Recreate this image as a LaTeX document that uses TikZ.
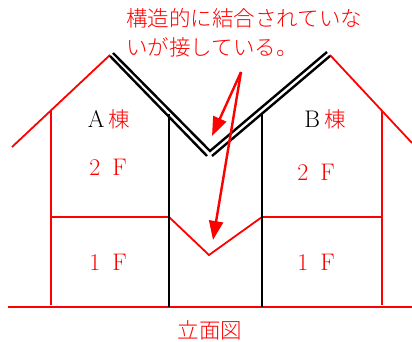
\documentclass[tikz,border=0pt]{standalone}
\usepackage{fontspec}
\usepackage{tikz}
\newfontfamily\cjk{Noto Sans CJK JP Light}
\tikzset{
    redline/.style={draw=red, line width=1.8pt},
    blackline/.style={draw=black, line width=2.4pt},
    callout/.style={draw=red, line width=2.4pt, -{Stealth[length=19pt,width=14pt,inset=0pt]}},
    redtext/.style={text=red, inner sep=0pt, font=\fontsize{24}{29}\selectfont},
    cjktext/.style={text=red, inner sep=0pt, font=\fontsize{21.5}{29}\selectfont\cjk},
}
\usetikzlibrary{arrows.meta}

\begin{document}
\begin{tikzpicture}[x=1pt, y=-1pt]
        \useasboundingbox (0,0) rectangle (412,342);

        \coordinate (eaveL) at (12,147);
        \coordinate (apexL) at (110,55);
        \coordinate (apexR) at (330,55);
        \coordinate (eaveR) at (412,143);
        \coordinate (wallLtop) at (51,110);
        \coordinate (wallLbot) at (51,305);
        \coordinate (wallRtop) at (382,111);
        \coordinate (wallRbot) at (382,305);
        \coordinate (innerLtop) at (169,114);
        \coordinate (innerLbot) at (169,307);
        \coordinate (innerRtop) at (262,113);
        \coordinate (innerRbot) at (262,307);
        \coordinate (floorL) at (51,217);
        \coordinate (floorML) at (169,217);
        \coordinate (floorV) at (209,255);
        \coordinate (floorMR) at (262,217);
        \coordinate (floorR) at (382,217);
        \coordinate (groundL) at (8,307);
        \coordinate (groundR) at (412,307);
        \coordinate (roofUpL) at (113,53);
        \coordinate (roofUpV) at (210,151);
        \coordinate (roofUpR) at (327,52);
        \coordinate (roofLowL) at (110,56);
        \coordinate (roofLowVL) at (207,156);
        \coordinate (roofLowVR) at (212,156);
        \coordinate (roofLowR) at (330,56);
        \coordinate (tail) at (241,72);
        \coordinate (tipRoof) at (212,136);
        \coordinate (tipFloor) at (213,240);

        \node[cjktext, anchor=north west, align=left] (note) at (126,8) {構造的に結合されていな\\いが接している。};
        \node[redtext] (labelA) at (109,119) {\textcolor{black}{A}\,{\cjk\fontsize{21.5}{29}\selectfont 棟}};
        \node[redtext] (labelB) at (325,119) {\textcolor{black}{B}\,{\cjk\fontsize{21.5}{29}\selectfont 棟}};
        \node[redtext] (floorA2) at (108,167) {2\enspace F};
        \node[redtext] (floorA1) at (108,262) {1\enspace F};
        \node[redtext] (floorB2) at (316,172) {2\enspace F};
        \node[redtext] (floorB1) at (316,262) {1\enspace F};
        \node[cjktext] (title) at (210,330) {立面図};

        \draw[redline] (eaveL) -- (apexL);
        \draw[redline] (apexR) -- (eaveR);
        \draw[redline] (wallLtop) -- (wallLbot);
        \draw[redline] (wallRtop) -- (wallRbot);
        \draw[redline] (floorL) -- (floorML) -- (floorV) -- (floorMR) -- (floorR);
        \draw[redline] (groundL) -- (groundR);

        \draw[blackline] (innerLtop) -- (innerLbot);
        \draw[blackline] (innerRtop) -- (innerRbot);
        \draw[blackline] (roofUpL) -- (roofUpV) -- (roofUpR);
        \draw[blackline] (roofLowL) -- (roofLowVL);
        \draw[blackline] (roofLowVR) -- (roofLowR);

        \draw[callout] (tail) -- (tipRoof);
        \draw[callout] (tail) -- (tipFloor);
    \end{tikzpicture}
\end{document}
